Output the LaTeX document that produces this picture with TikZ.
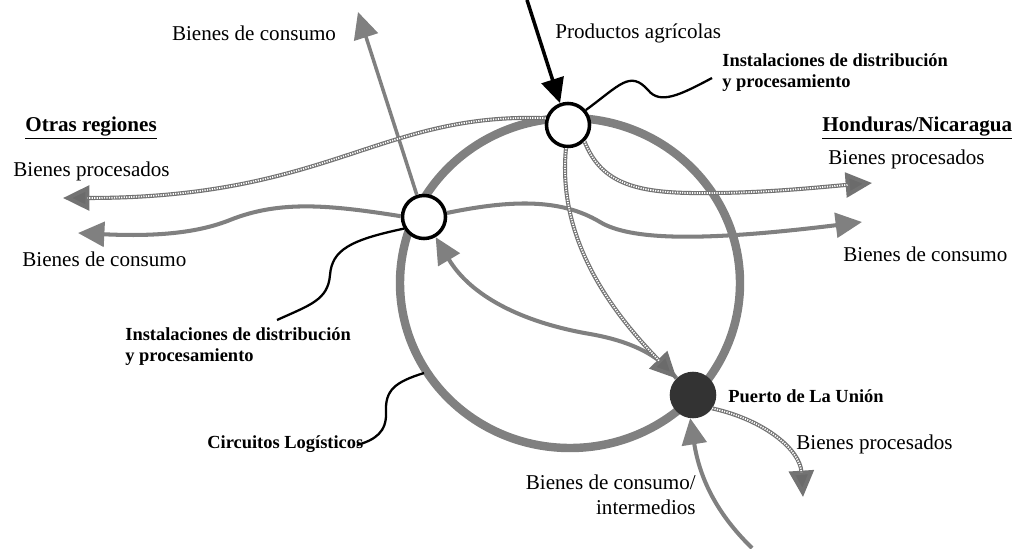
\documentclass[tikz,border=0pt]{standalone}
\usepackage{fontspec}
\setmainfont{Liberation Serif}
\usetikzlibrary{arrows.meta}
\definecolor{grisflujo}{HTML}{808080}
\definecolor{grispuerto}{HTML}{333333}
\tikzset{
  texto/.style={font=\fontsize{12}{14.5}\selectfont, inner sep=0pt},
  rotulo/.style={font=\fontsize{10.5}{12}\selectfont\bfseries, inner sep=0pt, align=left},
  titulo/.style={font=\fontsize{12}{14}\selectfont\bfseries, inner sep=0pt},
  nodo/.style={circle, draw, line width=2pt, fill=white, minimum size=24.5pt, inner sep=0pt},
  flujo/.style={draw=grisflujo, line width=2.3pt, -{Triangle[length=15pt,width=14pt]}},
  procesado/.style={draw=black!55, line width=2.3pt,
    -{Triangle[length=15pt,width=14pt,fill=black!58]},
    postaction={draw=white, line width=1pt, dash pattern=on 0.7pt off 0.7pt, -, shorten >=14pt}},
  guia/.style={draw, line width=1.3pt},
}
\begin{document}
\begin{tikzpicture}[x=0.02cm, y=-0.02cm]
  \useasboundingbox (0,0) rectangle (1017,548);
  % Circuit logistique
  \draw [grisflujo, line width=4.8pt] (570,283) ellipse [x radius=170, y radius=165];

  % Installations et port
  \node [nodo] (arriba) at (568,125) {};
  \node [nodo] (izq) at (424,217) {};
  \node [nodo, fill=grispuerto, draw=grispuerto] (puerto) at (693,395) {};

  % Extremites libres
  \coordinate (pa-ini) at (527,0);
  \coordinate (bc-arr) at (358,12);
  \coordinate (bp-izq) at (63,198);
  \coordinate (bc-izq) at (78,233);
  \coordinate (bp-der) at (872,183);
  \coordinate (bc-der) at (862,222);
  \coordinate (bp-sur) at (803,497);
  \coordinate (bci-ini) at (752,548);
  \coordinate (g1) at (712,78);
  \coordinate (g2) at (277,320);
  \coordinate (g3a) at (424,373);
  \coordinate (g3b) at (357,445);

  % Textes
  \node [texto] (t-bc-arr) at (254,33) {Bienes de consumo};
  \node [texto, anchor=west] (t-pa) at (555,33) {Productos agrícolas};
  \node [rotulo, anchor=west] (t-inst-arr) at (722,73) {Instalaciones de distribución\\y procesamiento};
  \node [titulo, anchor=base west] (t-otras) at (25,131) {\underline{Otras regiones}};
  \node [titulo, anchor=base west] (t-hn) at (822,131) {\underline{Honduras/Nicaragua}};
  \node [texto, anchor=base west] (t-bp-izq) at (13,176) {Bienes procesados};
  \node [texto, anchor=base west] (t-bc-izq) at (22,266) {Bienes de consumo};
  \node [texto, anchor=base west] (t-bp-der) at (828,164) {Bienes procesados};
  \node [texto, anchor=base west] (t-bc-der) at (843,261) {Bienes de consumo};
  \node [rotulo, anchor=west] (t-inst-izq) at (125,347) {Instalaciones de distribución\\y procesamiento};
  \node [rotulo, anchor=base west] (t-circ) at (207,448) {Circuitos Logísticos};
  \node [rotulo, anchor=base west] (t-puerto) at (728,402) {Puerto de La Unión};
  \node [texto, anchor=base west] (t-bp-sur) at (796,449) {Bienes procesados};
  \node [texto, anchor=east, align=right] (t-bci) at (696,495) {Bienes de consumo/\\intermedios};

  % Flux
  \draw [line width=2pt, -{Triangle[length=14pt,width=13pt]}] (pa-ini) -- (arriba.110);
  \draw [flujo, line width=2pt] (izq.108) -- (bc-arr);
  \draw [flujo] (izq.178) .. controls (330,205) and (280,200) .. (230,220)
    .. controls (200,232) and (160,237) .. (bc-izq);
  \draw [flujo] (izq.10) .. controls (510,200) and (560,198) .. (600,222)
    .. controls (630,240) and (700,242) .. (bc-der);
  \draw [flujo, {Triangle[length=15pt,width=14pt]}-] (izq.-60) .. controls (470,295) and (520,322) .. (590,334)
    .. controls (630,341) and (660,355) .. (puerto.135);
  \draw [flujo] (bci-ini) .. controls (718,515) and (700,480) .. (puerto.-97);
  \draw [procesado] (arriba.163) .. controls (380,112) and (330,198) .. (bp-izq);
  \draw [procesado] (arriba.-45) .. controls (600,180) and (630,192) .. (690,193)
    .. controls (760,194) and (820,187) .. (bp-der);
  \draw [procesado] (arriba.-95) .. controls (558,230) and (600,300) .. (puerto.135);
  \draw [procesado] (puerto.-35) .. controls (765,420) and (800,450) .. (bp-sur);

  % Lignes de rappel
  \draw [guia] (arriba.40) .. controls (620,85) and (630,70) .. (648,90)
    .. controls (660,105) and (680,95) .. (g1);
  \draw [guia] (izq.-150) .. controls (350,240) and (332,250) .. (330,275)
    .. controls (328,300) and (310,305) .. (g2);
  \draw [guia] (g3a) .. controls (395,382) and (385,390) .. (386,412)
    .. controls (387,432) and (375,440) .. (g3b);
\end{tikzpicture}
\end{document}
